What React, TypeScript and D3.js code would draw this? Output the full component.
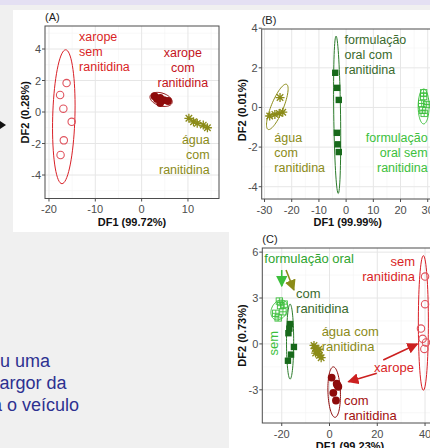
import * as d3 from 'd3';

type Pt = [number, number];
type Ellipse = { c: Pt; u: Pt; v: Pt };

// ---- panel A: xarope / água ----
const aXTicks = [-20, -10, 0, 10];
const aYTicks = [-4, -2, 0, 2, 4];
const aXaropeSem: Pt[] = [[-16.2, 1.84], [-17.6, 1.08], [-16.9, 0.21], [-15.1, -0.62], [-16.8, -1.8], [-17.5, -2.73]];
const aXaropeCom: Pt[] = [[2.8, 1.0], [3.3, 0.83], [4.0, 0.9], [4.8, 0.76], [5.7, 0.7], [4.0, 0.57]];
const aAgua: Pt[] = [[10.2, -0.4], [11.2, -0.62], [12.0, -0.72], [13.3, -0.83], [14.2, -1.0]];
const aEllSem: Ellipse = { c: [-16.8, -0.3], u: [2.4, 0], v: [0.4, 4.25] };
const aEllCom: Ellipse = { c: [4.2, 0.8], u: [2.4, -0.15], v: [0, 0.42] };
const aEllAgua: Ellipse = { c: [12.2, -0.7], u: [2.3, -0.33], v: [0, 0.1] };

// ---- panel B: formulação oral / água ----
const bXTicks = [-30, -20, -10, 0, 10, 20, 30];
const bYTicks = [-4, -2, 0, 2, 4];
const bAgua: Pt[] = [[-24.3, 0.5], [-28.1, -0.43], [-26.2, -0.35], [-24.6, -0.3], [-23.3, -0.24]];
const bFormCom: Pt[] = [[-4.0, 1.75], [-3.3, 0.99], [-2.7, 0.38], [-3.4, -1.28], [-3.1, -1.86], [-2.7, -2.25]];
const bFormSem: Pt[] = [[28.5, 0.74], [28.5, 0.55], [27.8, 0.2], [29.6, 0.15], [28.1, -0.14], [28.7, -0.3]];
const bEllAgua: Ellipse = { c: [-25.3, 0.03], u: [3.37, 1.14], v: [2.1, -0.11] };
const bEllCom: Ellipse = { c: [-3.3, -0.37], u: [1.25, 0], v: [-0.4, 3.97] };
const bEllSem: Ellipse = { c: [28.5, 0.05], u: [2.0, 0], v: [0, 0.88] };

// ---- panel C: all groups ----
const cXTicks = [-20, 0, 20, 40];
const cYTicks = [-3, 0, 3, 6];
const cFormSem: Pt[] = [[-22.5, 2.0], [-20.5, 2.5], [-19.5, 2.1], [-21.5, 1.7], [-21, 2.8], [-19, 2.6]];
const cFormCom: Pt[] = [[-16.5, 1.3], [-16.8, 1.0], [-17.2, 0.7], [-14.9, -0.2], [-16.1, -0.7], [-17.4, -1.1]];
const cAgua: Pt[] = [[-6.5, -0.1], [-6, -0.3], [-5.3, -0.45], [-4.8, -0.6], [-4.2, -0.75], [-3.5, -0.9], [-5.8, -0.6], [-4.5, -0.35]];
const cXaropeCom: Pt[] = [[0.9, -2.2], [3.0, -2.6], [3.7, -2.8], [1.6, -3.2], [2.7, -3.7], [3.3, -2.7]];
const cXaropeSem: Pt[] = [[40, 4.4], [40, 2.6], [38.3, 1.0], [39, 0.33], [40.4, 0.1], [39.7, -0.33]];
const cEllSem: Ellipse = { c: [-21.0, 2.22], u: [3.5, 0.25], v: [-0.5, 0.6] };
const cEllCom: Ellipse = { c: [-16.5, 0.15], u: [1.5, 0], v: [0, 2.45] };
const cEllAgua: Ellipse = { c: [-5.0, -0.5], u: [2.3, -0.48], v: [0.4, 0.2] };
const cEllXaropeCom: Ellipse = { c: [1.95, -3.15], u: [2.6, 0], v: [-0.35, 1.65] };
const cEllXaropeSem: Ellipse = { c: [39.3, 1.37], u: [2.1, 0], v: [0, 4.4] };

// ---- label texts ----
const txtXaropeSem = ['xarope', 'sem', 'ranitidina'];
const txtXaropeCom = ['xarope', 'com', 'ranitidina'];
const txtAgua = ['água', 'com', 'ranitidina'];
const txtFormCom = ['formulação', 'oral com', 'ranitidina'];
const txtFormSem = ['formulação', 'oral sem', 'ranitidina'];
const sideText = ['ou uma', 'argor da', 'a o veículo'];

const C = {
  red: '#d91f26',
  redLight: '#e0535e',
  darkRed: '#8e0b0b',
  olive: '#8b8b18',
  darkGreen: '#17691a',
  green: '#3cbf3c',
  greenText: '#2fa52f',
  comText: '#3a6a2d',
};

type Shape = 'openCircle' | 'dot' | 'square' | 'openSquare' | 'star';
type Group = { points: Pt[]; ellipse: Ellipse; shape: Shape; color: string; ellColor: string };
type Note = { lines: string[]; at: Pt; anchor: string; color: string; rotate?: boolean };
type Arrow = { from: Pt; to: Pt; color: string };
type Panel = {
  title: string; xLabel: string; yLabel: string;
  frame: { left: number; right: number; top: number; bottom: number };
  xDomain: [number, number]; yDomain: [number, number];
  xTicks: number[]; yTicks: number[]; xMinor: number[]; yMinor: number[];
  groups: Group[]; notes: Note[]; arrows: Arrow[]; noteSize: number; yLabelY?: number;
};

const panels: Panel[] = [
  {
    title: '(A)', xLabel: 'DF1 (99.72%)', yLabel: 'DF2 (0.28%)',
    frame: { left: 45, right: 219, top: 26, bottom: 198.5 },
    xDomain: [-20.86, 16.7], yDomain: [-5.49, 5.46],
    xTicks: aXTicks, yTicks: aYTicks, xMinor: [-15, -5, 5, 15], yMinor: [-5, -3, -1, 1, 3, 5],
    groups: [
      { points: aXaropeSem, ellipse: aEllSem, shape: 'openCircle', color: C.redLight, ellColor: C.red },
      { points: aXaropeCom, ellipse: aEllCom, shape: 'dot', color: C.darkRed, ellColor: C.darkRed },
      { points: aAgua, ellipse: aEllAgua, shape: 'star', color: C.olive, ellColor: C.olive },
    ],
    notes: [
      { lines: txtXaropeSem, at: [-13.5, 4.48], anchor: 'start', color: C.red },
      { lines: txtXaropeCom, at: [8.9, 3.52], anchor: 'middle', color: '#c4141c' },
      { lines: txtAgua, at: [14.7, -2.06], anchor: 'end', color: C.olive },
    ],
    arrows: [], noteSize: 12.5,
  },
  {
    title: '(B)', xLabel: 'DF1 (99.99%)', yLabel: 'DF2 (0.01%)',
    frame: { left: 261.7, right: 433.7, top: 29, bottom: 199 },
    xDomain: [-31.04, 32.2], yDomain: [-4.62, 3.96],
    xTicks: bXTicks, yTicks: bYTicks, xMinor: [-25, -15, -5, 5, 15, 25], yMinor: [-3, -1, 1, 3],
    groups: [
      { points: bAgua, ellipse: bEllAgua, shape: 'star', color: C.olive, ellColor: C.olive },
      { points: bFormCom, ellipse: bEllCom, shape: 'square', color: C.darkGreen, ellColor: '#2a7a2a' },
      { points: bFormSem, ellipse: bEllSem, shape: 'openSquare', color: C.green, ellColor: C.green },
    ],
    notes: [
      { lines: txtFormCom, at: [-0.6, 3.18], anchor: 'start', color: C.comText },
      { lines: txtAgua, at: [-26.4, -1.72], anchor: 'start', color: C.olive },
      { lines: txtFormSem, at: [30.0, -1.72], anchor: 'end', color: C.green },
    ],
    arrows: [], noteSize: 12.5, yLabelY: 110,
  },
  {
    title: '(C)', xLabel: 'DF1 (99.23%)', yLabel: 'DF2 (0.73%)',
    frame: { left: 262.3, right: 437.7, top: 248, bottom: 423 },
    xDomain: [-28.14, 45.3], yDomain: [-5.17, 6.27],
    xTicks: cXTicks, yTicks: cYTicks, xMinor: [-10, 10, 30], yMinor: [-4.5, -1.5, 1.5, 4.5],
    groups: [
      { points: cFormSem, ellipse: cEllSem, shape: 'openSquare', color: C.green, ellColor: C.green },
      { points: cFormCom, ellipse: cEllCom, shape: 'square', color: C.darkGreen, ellColor: '#2a7a2a' },
      { points: cAgua, ellipse: cEllAgua, shape: 'star', color: C.olive, ellColor: C.olive },
      { points: cXaropeCom, ellipse: cEllXaropeCom, shape: 'dot', color: C.darkRed, ellColor: C.darkRed },
      { points: cXaropeSem, ellipse: cEllXaropeSem, shape: 'openCircle', color: C.redLight, ellColor: C.red },
    ],
    notes: [
      { lines: ['formulação oral'], at: [-27.3, 5.3], anchor: 'start', color: C.greenText },
      { lines: ['com', 'ranitidina'], at: [-14.0, 2.97], anchor: 'start', color: C.comText },
      { lines: ['sem'], at: [-21.6, 0.04], anchor: 'middle', color: C.green, rotate: true },
      { lines: ['água com', 'ranitidina'], at: [-3.3, 0.5], anchor: 'start', color: C.olive },
      { lines: ['sem', 'ranitidina'], at: [35.8, 5.12], anchor: 'end', color: C.red },
      { lines: ['xarope'], at: [27.0, -1.85], anchor: 'middle', color: C.red },
      { lines: ['com', 'ranitidina'], at: [6.1, -4.0], anchor: 'start', color: '#a31010' },
    ],
    arrows: [
      { from: [-20.0, 4.83], to: [-20.0, 3.78], color: C.green },
      { from: [-18.2, 4.83], to: [-14.9, 3.52], color: C.olive },
      { from: [22.5, -1.05], to: [36.8, 0.0], color: '#cc2020' },
      { from: [19.8, -1.92], to: [7.9, -2.47], color: '#cc2020' },
    ],
    noteSize: 13,
  },
];

function ellipsePath(e: Ellipse, x: d3.ScaleLinear<number, number>, y: d3.ScaleLinear<number, number>) {
  const pts: Pt[] = d3.range(72).map(i => {
    const t = (i / 72) * 2 * Math.PI;
    return [e.c[0] + e.u[0] * Math.cos(t) + e.v[0] * Math.sin(t), e.c[1] + e.u[1] * Math.cos(t) + e.v[1] * Math.sin(t)];
  });
  return d3.line<Pt>().x(d => x(d[0])).y(d => y(d[1])).curve(d3.curveLinearClosed)(pts) || '';
}

function Marker({ shape, color, cx, cy }: { shape: Shape; color: string; cx: number; cy: number }) {
  if (shape === 'openCircle') return <circle cx={cx} cy={cy} r={3.7} fill="none" stroke={color} strokeWidth={1.1} />;
  if (shape === 'dot') return <circle cx={cx} cy={cy} r={3.9} fill={color} />;
  if (shape === 'square') return <rect x={cx - 3.2} y={cy - 3.2} width={6.4} height={6.4} fill={color} />;
  if (shape === 'openSquare')
    return (
      <g stroke={color} strokeWidth={0.9} fill="none">
        <rect x={cx - 3.2} y={cy - 3.2} width={6.4} height={6.4} />
        <path d={`M${cx - 3.2},${cy}H${cx + 3.2}M${cx},${cy - 3.2}V${cy + 3.2}`} />
      </g>
    );
  const r = 4.5, q = r * 0.72;
  return (
    <path
      d={`M${cx - r},${cy}H${cx + r}M${cx},${cy - r}V${cy + r}M${cx - q},${cy - q}L${cx + q},${cy + q}M${cx - q},${cy + q}L${cx + q},${cy - q}`}
      stroke={color} strokeWidth={1.3} fill="none"
    />
  );
}

function PanelView({ p, idx }: { p: Panel; idx: number }) {
  const { left, right, top, bottom } = p.frame;
  const x = d3.scaleLinear().domain(p.xDomain).range([left, right]);
  const y = d3.scaleLinear().domain(p.yDomain).range([bottom, top]);
  const clipId = `clip-${idx}`;
  const tickColor = '#4d4d4d';
  const font = 'Liberation Sans, Arial, sans-serif';
  return (
    <g fontFamily={font}>
      <defs>
        <clipPath id={clipId}>
          <rect x={left} y={top} width={right - left} height={bottom - top} />
        </clipPath>
        {p.arrows.map((a, i) => (
          <marker key={i} id={`arr-${idx}-${i}`} viewBox="0 0 10 10" refX={9} refY={5} markerWidth={7} markerHeight={7} orient="auto">
            <path d="M0,0L10,5L0,10z" fill={a.color} />
          </marker>
        ))}
      </defs>
      <rect x={left} y={top} width={right - left} height={bottom - top} fill="#fff" />
      <g clipPath={`url(#${clipId})`}>
        {p.xMinor.map(t => <line key={'xm' + t} x1={x(t)} x2={x(t)} y1={top} y2={bottom} stroke="#f3f3f3" strokeWidth={0.6} />)}
        {p.yMinor.map(t => <line key={'ym' + t} x1={left} x2={right} y1={y(t)} y2={y(t)} stroke="#f3f3f3" strokeWidth={0.6} />)}
        {p.xTicks.map(t => <line key={'x' + t} x1={x(t)} x2={x(t)} y1={top} y2={bottom} stroke="#e6e6e6" strokeWidth={1} />)}
        {p.yTicks.map(t => <line key={'y' + t} x1={left} x2={right} y1={y(t)} y2={y(t)} stroke="#e6e6e6" strokeWidth={1} />)}
        {p.groups.map((g, gi) => (
          <g key={gi}>
            <path d={ellipsePath(g.ellipse, x, y)} fill="none" stroke={g.ellColor} strokeWidth={1} />
            {g.points.map((d, i) => <Marker key={i} shape={g.shape} color={g.color} cx={x(d[0])} cy={y(d[1])} />)}
          </g>
        ))}
      </g>
      <rect x={left} y={top} width={right - left} height={bottom - top} fill="none" stroke="#4d4d4d" strokeWidth={1} />
      {p.xTicks.map(t => (
        <g key={'xt' + t}>
          <line x1={x(t)} x2={x(t)} y1={bottom} y2={bottom + 3} stroke="#4d4d4d" />
          <text x={x(t)} y={bottom + 14.5} textAnchor="middle" fontSize={11} fill={tickColor}>{t}</text>
        </g>
      ))}
      {p.yTicks.map(t => (
        <g key={'yt' + t}>
          <line x1={left - 3} x2={left} y1={y(t)} y2={y(t)} stroke="#4d4d4d" />
          <text x={left - 4} y={y(t) + 4} textAnchor="end" fontSize={11} fill={tickColor}>{t}</text>
        </g>
      ))}
      <text x={left} y={top - 5.5} fontSize={11} fill="#222">{p.title}</text>
      <text x={(left + right) / 2} y={bottom + 27} textAnchor="middle" fontSize={11} fontWeight="bold" fill="#111">{p.xLabel}</text>
      <text
        transform={`translate(${left - 16},${p.yLabelY ?? (top + bottom) / 2}) rotate(-90)`}
        textAnchor="middle" fontSize={11} fontWeight="bold" fill="#111"
      >{p.yLabel}</text>
      {p.notes.map((n, i) =>
        n.rotate ? (
          <text key={i} transform={`translate(${x(n.at[0])},${y(n.at[1])}) rotate(-90)`} textAnchor="middle" fontSize={p.noteSize} fill={n.color}>
            {n.lines[0]}
          </text>
        ) : (
          <text key={i} x={x(n.at[0])} y={y(n.at[1])} textAnchor={n.anchor} fontSize={p.noteSize} fill={n.color}>
            {n.lines.map((l, li) => (
              <tspan key={li} x={x(n.at[0])} dy={li === 0 ? 0 : 15}>{l}</tspan>
            ))}
          </text>
        )
      )}
      {p.arrows.map((a, i) => (
        <line key={i} x1={x(a.from[0])} y1={y(a.from[1])} x2={x(a.to[0])} y2={y(a.to[1])}
          stroke={a.color} strokeWidth={1.6} markerEnd={`url(#arr-${idx}-${i})`} />
      ))}
    </g>
  );
}

export default function App() {
  return (
    <svg width={430} height={448} style={{ position: 'absolute', left: 0, top: 0 }}>
      <rect width={430} height={448} fill="#f0f0f0" />
      <rect width={430} height={5} fill="#e4e0f3" />
      <rect x={13} y={10} width={216} height={222} fill="#fff" />
      <rect x={229} y={10} width={201} height={438} fill="#fff" />
      <path d="M0,121L6,125L0,129Z" fill="#111" />
      <text fontFamily="Liberation Sans, Arial, sans-serif" fontSize={18} fill="#2d3190">
        {sideText.map((s, i) => (
          <tspan key={i} x={i === 0 ? -10 : i === 1 ? -0.5 : -8} y={367 + i * 22}>{s}</tspan>
        ))}
      </text>
      {panels.map((p, i) => <PanelView key={i} p={p} idx={i} />)}
    </svg>
  );
}
